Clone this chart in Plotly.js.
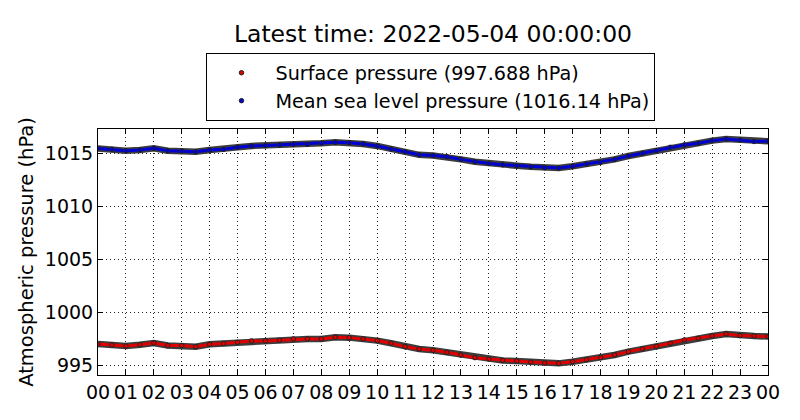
<!DOCTYPE html>
<html>
<head>
<meta charset="utf-8">
<script src="https://cdn.plot.ly/plotly-3.0.1.min.js"></script>
<style>
  body { margin: 0; background: #fff; }
  #chart { width: 800px; height: 420px; }
</style>
</head>
<body>
<div id="chart"></div>
<script>
// Hours since 2022-05-03 00:00 (half-hourly readings)
var hours = [0, 0.5, 1, 1.5, 2, 2.5, 3, 3.5, 4, 4.5, 5, 5.5, 6, 6.5, 7, 7.5,
  8, 8.5, 9, 9.5, 10, 10.5, 11, 11.5, 12, 12.5, 13, 13.5, 14, 14.5, 15, 15.5,
  16, 16.5, 17, 17.5, 18, 18.5, 19, 19.5, 20, 20.5, 21, 21.5, 22, 22.5, 23, 23.5, 24];

// Surface pressure (hPa)
var surface = [996.99, 996.90, 996.80, 996.92, 997.08, 996.84, 996.84, 996.74,
  996.96, 997.03, 997.15, 997.28, 997.28, 997.34, 997.47, 997.47,
  997.47, 997.63, 997.59, 997.47, 997.31, 997.06, 996.74, 996.52,
  996.40, 996.20, 995.95, 995.70, 995.57, 995.44, 995.38, 995.28,
  995.19, 995.16, 995.32, 995.51, 995.70, 995.95, 996.27, 996.52,
  996.77, 997.06, 997.37, 997.53, 997.75, 997.94, 997.78, 997.75, 997.688];

// Mean sea level pressure (hPa)
var mslp = [1015.47, 1015.38, 1015.25, 1015.32, 1015.47, 1015.25, 1015.22, 1015.15,
  1015.32, 1015.38, 1015.57, 1015.70, 1015.73, 1015.79, 1015.85, 1015.85,
  1015.95, 1016.04, 1016.00, 1015.89, 1015.70, 1015.40, 1015.16, 1014.86,
  1014.80, 1014.68, 1014.43, 1014.21, 1014.05, 1013.92, 1013.83, 1013.73,
  1013.64, 1013.61, 1013.78, 1013.99, 1014.15, 1014.43, 1014.75, 1015.00,
  1015.25, 1015.57, 1015.79, 1015.95, 1016.20, 1016.36, 1016.27, 1016.12, 1016.14];

var tickHours = [0, 1, 2, 3, 4, 5, 6, 7, 8, 9, 10, 11, 12, 13, 14, 15, 16, 17, 18, 19, 20, 21, 22, 23, 24];
var tickText = ['00', '01', '02', '03', '04', '05', '06', '07', '08', '09', '10', '11',
  '12', '13', '14', '15', '16', '17', '18', '19', '20', '21', '22', '23', '00'];

var latestTime = '2022-05-04 00:00:00';

var font = 'DejaVu Sans, sans-serif';

// band = dark outline + coloured core + dots, like dense matplotlib markers
function band(y, color, name) {
  return [
    { x: hours, y: y, type: 'scatter', mode: 'lines', showlegend: false, hoverinfo: 'skip',
      line: { color: '#3c3c3c', width: 6.5 } },
    { x: hours, y: y, type: 'scatter', mode: 'lines', showlegend: false, hoverinfo: 'skip',
      line: { color: color, width: 3 } },
    { x: hours, y: y, type: 'scatter', mode: 'markers', name: name,
      marker: { color: color, size: 4.5, line: { color: '#222', width: 1 } } }
  ];
}

var data = band(surface, '#e00000',
  'Surface pressure (' + surface[surface.length - 1] + ' hPa)')
  .concat(band(mslp, '#0000d8',
  'Mean sea level pressure (' + mslp[mslp.length - 1] + ' hPa)'));

var gridDash = '1px,3px';

var layout = {
  width: 800,
  height: 420,
  margin: { l: 98, r: 32, t: 129, b: 45 },
  paper_bgcolor: '#fff',
  plot_bgcolor: '#fff',
  font: { family: font, size: 19, color: '#000' },
  title: {
    text: 'Latest time: ' + latestTime,
    font: { family: font, size: 23.5, color: '#000' },
    x: 0.5, xref: 'paper', xanchor: 'center',
    y: 0.919, yref: 'container', yanchor: 'middle'
  },
  showlegend: true,
  legend: {
    x: 0.497, xanchor: 'center', y: 1.31, yanchor: 'top',
    bordercolor: '#000', borderwidth: 1, bgcolor: '#fff',
    font: { family: font, size: 19.2, color: '#000' },
    itemwidth: 58,
    tracegroupgap: 0
  },
  xaxis: {
    range: [0, 24],
    tickmode: 'array', tickvals: tickHours, ticktext: tickText,
    ticks: 'inside', ticklen: 5, tickcolor: '#000',
    showline: true, linecolor: '#000', linewidth: 1, mirror: 'ticks',
    showgrid: true, gridcolor: '#222', gridwidth: 1, griddash: gridDash,
    zeroline: false,
    tickfont: { family: font, size: 19, color: '#000' }
  },
  yaxis: {
    range: [994.06, 1017.3],
    tickmode: 'array', tickvals: [995, 1000, 1005, 1010, 1015],
    ticks: 'inside', ticklen: 5, tickcolor: '#000',
    showline: true, linecolor: '#000', linewidth: 1, mirror: 'ticks',
    showgrid: true, gridcolor: '#222', gridwidth: 1, griddash: gridDash,
    zeroline: false,
    tickfont: { family: font, size: 19, color: '#000' },
    title: { text: 'Atmospheric pressure (hPa)', standoff: 6,
      font: { family: font, size: 19.5, color: '#000' } }
  }
};

Plotly.newPlot('chart', data, layout, { displayModeBar: false, staticPlot: true });
</script>
</body>
</html>
